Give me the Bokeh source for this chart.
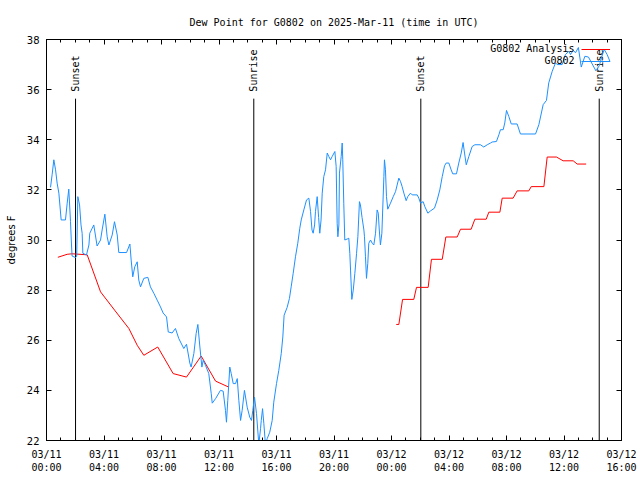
import math
from bokeh.plotting import figure
from bokeh.models import (Range1d, FixedTicker, Legend, LegendItem, Label,
                          LinearAxis, CustomJSTickFormatter)
from bokeh.embed import file_html
from bokeh.resources import INLINE
from bokeh.core.properties import value

title_text = "Dew Point for G0802 on 2025-Mar-11 (time in UTC)"
y_label = "degrees F"
legend_texts = ["G0802 Analysis", "G0802"]

# x values are hours since 2025-03-11 00:00 UTC
x_ticks = [0, 4, 8, 12, 16, 20, 24, 28, 32, 36, 40]
x_tick_labels = ["03/11\n00:00", "03/11\n04:00", "03/11\n08:00", "03/11\n12:00",
                 "03/11\n16:00", "03/11\n20:00", "03/12\n00:00", "03/12\n04:00",
                 "03/12\n08:00", "03/12\n12:00", "03/12\n16:00"]
x_minor_ticks = list(range(0, 41))
y_ticks = [22, 24, 26, 28, 30, 32, 34, 36, 38]

sun_hours = [2.02, 14.42, 26.04, 38.45]
sun_labels = ["Sunset", "Sunrise", "Sunset", "Sunrise"]

# G0802 observations (dew point, F)
obs_hours = [0.28, 0.39, 0.51, 0.63, 0.74, 0.86, 1.02, 1.32, 1.44, 1.55, 1.67, 1.74, 1.78,
             2.02, 2.10, 2.18, 2.30, 2.40, 2.48, 2.53, 2.78, 2.95, 3.01, 3.18, 3.29, 3.52,
             3.76, 3.87, 4.06, 4.22, 4.34, 4.57, 4.73, 4.92, 5.03, 5.57, 5.80, 5.89, 6.00,
             6.14, 6.31, 6.42, 6.54, 6.77, 7.05, 7.23, 7.47, 7.70, 7.93, 8.11, 8.35, 8.47,
             8.74, 8.97, 9.20, 9.55, 9.74, 9.97, 10.06, 10.25, 10.41, 10.53, 10.67, 10.81,
             10.90, 11.06, 11.29, 11.46, 11.53, 11.76, 12.10, 12.29, 12.45, 12.52, 12.61,
             12.75, 12.85, 12.99, 13.15, 13.27, 13.38, 13.50, 13.61, 13.77, 13.96, 14.14,
             14.26, 14.35, 14.47, 14.61, 14.77, 14.89, 14.94, 15.03, 15.12, 15.23, 15.35,
             15.53, 15.70, 15.81, 16.00, 16.16, 16.33, 16.44, 16.53, 16.74, 16.90, 17.02,
             17.16, 17.32, 17.48, 17.62, 17.72, 17.90, 18.09, 18.25, 18.37, 18.47, 18.55,
             18.65, 18.71, 18.83, 18.93, 19.01, 19.10, 19.18, 19.29, 19.41, 19.53, 19.64,
             19.76, 19.87, 20.06, 20.15, 20.22, 20.27, 20.34, 20.38, 20.50, 20.57, 20.61,
             20.68, 20.75, 20.92, 21.03, 21.10, 21.15, 21.24, 21.34, 21.45, 21.57, 21.66,
             21.77, 21.84, 21.95, 22.08, 22.12, 22.19, 22.26, 22.35, 22.42, 22.54, 22.66,
             22.77, 22.89, 23.00, 23.08, 23.15, 23.23, 23.33, 23.47, 23.51, 23.58, 23.65,
             23.74, 23.93, 24.12, 24.28, 24.51, 24.63, 24.74, 24.86, 25.02, 25.13, 25.32,
             25.44, 25.79, 25.90, 26.02, 26.20, 26.32, 26.53, 26.71, 26.99, 27.18, 27.36,
             27.53, 27.69, 27.80, 27.99, 28.15, 28.26, 28.52, 28.68, 28.85, 28.98, 29.08,
             29.20, 29.38, 29.61, 29.80, 30.19, 30.42, 30.66, 30.89, 31.00, 31.30, 31.47,
             31.58, 31.77, 31.88, 32.00, 32.16, 32.33, 32.74, 32.97, 34.02, 34.25, 34.55,
             34.78, 34.94, 35.18, 35.41, 35.52, 35.87, 36.10, 36.34, 36.45, 36.64, 36.80,
             37.00, 37.20, 37.45, 37.70, 38.22, 38.45, 38.70, 38.80, 39.00, 39.20]
obs_dewpt = [32.10, 32.60, 33.20, 32.80, 32.27, 31.87, 30.80, 30.80, 31.47, 32.03, 30.73, 29.80, 29.36,
             29.30, 29.35, 31.73, 31.40, 30.60, 30.27, 29.47, 29.40, 29.80, 30.27, 30.47, 30.60, 29.76,
             30.00, 30.40, 31.03, 30.13, 29.80, 30.20, 30.73, 30.20, 29.50, 29.50, 29.84, 29.20, 28.53,
             28.93, 29.13, 28.40, 28.13, 28.47, 28.51, 28.13, 27.87, 27.60, 27.33, 27.09, 26.93, 26.33,
             26.29, 26.47, 26.07, 25.67, 25.84, 25.09, 24.93, 25.47, 26.27, 26.63, 25.73, 24.93,
             25.20, 25.00, 24.67, 23.87, 23.49, 23.67, 24.00, 23.97, 23.20, 22.73, 23.60,
             24.93, 24.67, 24.27, 24.27, 24.47, 23.60, 22.80, 23.20, 24.00, 23.33, 22.93,
             22.80, 23.20, 23.73, 23.07, 21.85, 22.47, 22.80, 23.27, 22.67, 21.85, 22.07,
             22.33, 22.80, 23.53, 24.27, 24.80, 25.47, 26.13, 27.00, 27.31, 27.67, 28.13,
             28.67, 29.33, 29.87, 30.47, 30.80, 31.20, 31.60, 31.67, 31.13, 30.40, 30.27,
             30.60, 31.13, 31.73, 30.90, 30.27, 30.80, 31.87, 32.53, 32.80, 33.47, 33.33,
             33.20, 33.33, 33.53, 32.93, 30.67, 30.13, 30.60, 32.67, 33.33, 33.87, 33.20,
             31.47, 30.00, 30.04, 30.07, 29.47, 28.80, 27.63, 28.00, 28.67, 29.47, 30.13,
             31.53, 31.40, 30.90, 30.40, 30.13, 29.33, 28.47, 29.07, 29.87, 30.00, 29.87,
             29.80, 30.27, 31.20, 31.07, 30.40, 29.80, 30.27, 32.53, 33.20, 32.80, 31.73,
             31.23, 31.47, 31.73, 31.93, 32.47, 32.33, 32.13, 31.87, 31.57, 31.73, 31.87,
             31.80, 31.80, 31.67, 31.47, 31.53, 31.33, 31.07, 31.16, 31.27, 31.60, 32.00,
             32.53, 32.96, 33.07, 33.07, 32.80, 32.64, 32.64, 33.07, 33.47, 33.89, 33.47,
             33.00, 33.33, 33.73, 33.80, 33.80, 33.71, 33.80, 33.87, 33.91, 33.93, 34.20,
             34.40, 34.40, 34.67, 35.17, 34.93, 34.63, 34.63, 34.23, 34.23, 34.60, 35.40,
             35.57, 36.27, 36.73, 37.07, 37.00, 37.00, 37.40, 37.53, 37.40, 37.57, 37.47,
             37.68, 36.90, 37.33, 37.30, 36.75, 36.95, 37.45, 37.60, 37.40, 37.12]

# G0802 Analysis (dew point, F), two separate runs
ana1_hours = [0.79, 1.44, 1.78, 2.83, 3.76, 4.78, 5.73, 6.31, 6.77, 7.74, 8.81, 9.74,
              10.76, 11.76, 12.68]
ana1_dewpt = [29.31, 29.43, 29.45, 29.41, 27.93, 27.17, 26.47, 25.80, 25.40, 25.73, 24.67,
              24.53, 25.37, 24.37, 24.13]
ana2_hours = [24.33, 24.51, 24.77, 25.55, 25.74, 26.55, 26.78, 27.53, 27.78, 28.57, 28.80,
              29.54, 29.80, 30.59, 30.77, 31.54, 31.70, 32.46, 32.74, 33.55, 33.72, 34.60,
              34.83, 35.48, 35.94, 36.64, 36.92, 37.54]
ana2_dewpt = [26.63, 26.63, 27.63, 27.63, 28.11, 28.11, 29.23, 29.23, 30.12, 30.12, 30.43,
              30.43, 30.83, 30.83, 31.11, 31.11, 31.67, 31.67, 31.96, 31.96, 32.13, 32.13,
              33.31, 33.31, 33.16, 33.16, 33.03, 33.03]

RED = "#ff0000"
BLUE = "#1e90ff"
MONO = "DejaVu Sans Mono"
SANS = "DejaVu Sans"

p = figure(width=640, height=480, output_backend="svg", toolbar_location=None,
           x_range=Range1d(0, 40), y_range=Range1d(22, 38),
           min_border_left=46, min_border_right=19, min_border_top=39,
           min_border_bottom=40, background_fill_color="white",
           border_fill_color="white")
p.grid.visible = False
p.outline_line_color = "black"
p.outline_line_width = 1

p.title.text = title_text
p.title.align = "center"
p.title.text_font = MONO
p.title.text_font_size = "10px"
p.title.text_font_style = "normal"
p.title.text_color = "black"
p.title.standoff = 24

xa = p.xaxis[0]
xa.ticker = FixedTicker(ticks=x_ticks, minor_ticks=x_minor_ticks)
xa.major_label_overrides = dict(zip(x_ticks, x_tick_labels))
xa.major_tick_in = 5
xa.major_tick_out = 0
xa.minor_tick_in = 3
xa.minor_tick_out = 0
xa.major_label_standoff = 8
xa.major_label_text_font = MONO
xa.major_label_text_font_size = "10px"
xa.major_label_text_color = "black"
xa.axis_line_color = "black"

ya = p.yaxis[0]
ya.ticker = FixedTicker(ticks=y_ticks, minor_ticks=[])
ya.major_tick_in = 5
ya.major_tick_out = 0
ya.minor_tick_in = 0
ya.minor_tick_out = 0
ya.major_label_standoff = 7
ya.major_label_text_font = SANS
ya.major_label_text_font_size = "10px"
ya.major_label_text_color = "black"
ya.axis_label = y_label
ya.axis_label_text_font = SANS
ya.axis_label_text_font_size = "10px"
ya.axis_label_text_font_style = "normal"
ya.axis_label_text_color = "black"
ya.axis_label_standoff = 7
ya.axis_line_color = "black"

blank = CustomJSTickFormatter(code="return ''")
top_axis = LinearAxis(ticker=FixedTicker(ticks=x_ticks, minor_ticks=x_minor_ticks),
                      formatter=blank, major_tick_in=5, major_tick_out=0,
                      minor_tick_in=3, minor_tick_out=0, major_label_standoff=0,
                      major_label_text_font_size="1px")
p.add_layout(top_axis, "above")
right_axis = LinearAxis(ticker=FixedTicker(ticks=y_ticks, minor_ticks=[]),
                        formatter=blank, major_tick_in=5, major_tick_out=0,
                        minor_tick_in=0, minor_tick_out=0, major_label_standoff=0,
                        major_label_text_font_size="1px")
p.add_layout(right_axis, "right")

# sunrise / sunset markers
line_top = 35.64
label_base = 35.92
p.segment(x0=sun_hours, y0=[22] * len(sun_hours), x1=sun_hours,
          y1=[line_top] * len(sun_hours), line_color="black", line_width=1)
p.text(x=sun_hours, y=[label_base] * len(sun_hours), text=sun_labels,
       angle=math.pi / 2, text_align="left", text_baseline="middle",
       text_font=value(MONO), text_font_size="10px", text_color="black")

r_red1 = p.line(ana1_hours, ana1_dewpt, line_color=RED, line_width=1)
r_red2 = p.line(ana2_hours, ana2_dewpt, line_color=RED, line_width=1)
r_blue = p.line(obs_hours, obs_dewpt, line_color=BLUE, line_width=1)

legend = Legend(items=[LegendItem(label=" ", renderers=[r_red1]),
                       LegendItem(label=" ", renderers=[r_blue])],
                location=(535, 373), glyph_width=29, glyph_height=12,
                label_height=12, label_width=0, label_standoff=0, padding=0,
                margin=0, spacing=0, border_line_color=None,
                background_fill_alpha=0, label_text_font_size="10px")
p.add_layout(legend)
for txt, yv in zip(legend_texts, [37.64, 37.16]):
    p.add_layout(Label(x=36.73, y=yv, text=txt, text_align="right",
                       text_baseline="middle", text_font=MONO,
                       text_font_size="10px", text_color="black"))

open("out.html", "w").write(file_html(p, INLINE))
